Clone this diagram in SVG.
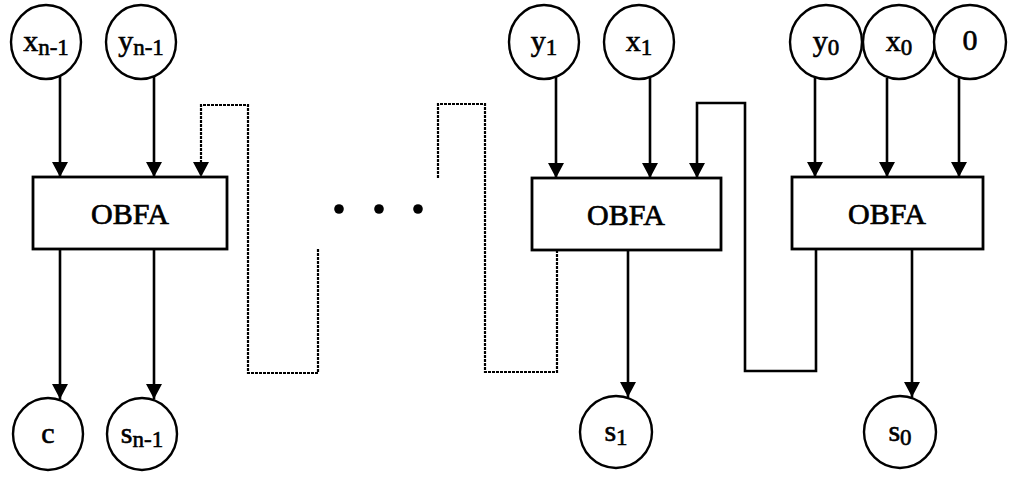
<svg xmlns="http://www.w3.org/2000/svg" width="1016" height="477" viewBox="0 0 1016 477">
<style>
.n{fill:#fff;stroke:#000;stroke-width:2.4}
.b{fill:#fff;stroke:#000;stroke-width:2.8}
.t{font-family:"Liberation Serif","Times New Roman",serif;font-size:30px;fill:#000;stroke:#000;stroke-width:0.6;text-anchor:middle}
.bt{font-family:"Liberation Serif","Times New Roman",serif;font-size:30px;fill:#000;stroke:#000;stroke-width:0.7;text-anchor:middle}
.sub{font-size:23px}
.s{fill:none;stroke:#000;stroke-width:2.6}
.d{fill:none;stroke:#000;stroke-width:2.2;stroke-dasharray:3 1}
.dot{fill:#000}
</style>
<defs>
<marker id="ah" markerUnits="userSpaceOnUse" markerWidth="15" markerHeight="16" viewBox="0 0 15 16" refX="15" refY="8" orient="auto">
<path d="M0,0 L15,8 L0,16 z" fill="#000"/>
</marker>
</defs>
<rect width="1016" height="477" fill="#fff"/>
<g id="connectors">
<line class="s" x1="60" y1="76" x2="60" y2="177" marker-end="url(#ah)"/>
<line class="s" x1="154" y1="76" x2="154" y2="177" marker-end="url(#ah)"/>
<line class="s" x1="556" y1="76" x2="556" y2="178" marker-end="url(#ah)"/>
<line class="s" x1="650" y1="76" x2="650" y2="178" marker-end="url(#ah)"/>
<line class="s" x1="815" y1="76" x2="815" y2="177" marker-end="url(#ah)"/>
<line class="s" x1="887" y1="78" x2="887" y2="177" marker-end="url(#ah)"/>
<line class="s" x1="959" y1="76" x2="959" y2="177" marker-end="url(#ah)"/>
<path class="s" d="M816,249 V371 H745 V103 H697 V178" marker-end="url(#ah)"/>
<path class="d" d="M557,250 V372 H485 V104 H438 V178"/>
<path class="d" d="M318,249 V373 H248 V105 H201 V177" marker-end="url(#ah)"/>
<line class="s" x1="60" y1="249" x2="60" y2="399" marker-end="url(#ah)"/>
<line class="s" x1="154" y1="249" x2="154" y2="399" marker-end="url(#ah)"/>
<line class="s" x1="628" y1="250" x2="628" y2="397" marker-end="url(#ah)"/>
<line class="s" x1="912" y1="249" x2="912" y2="397" marker-end="url(#ah)"/>
</g>
<g id="ellipsis">
<circle class="dot" cx="339" cy="209" r="4.8"/>
<circle class="dot" cx="379" cy="209" r="4.8"/>
<circle class="dot" cx="418" cy="209" r="4.8"/>
</g>
<g id="node-xn1"><ellipse class="n" cx="46" cy="42" rx="35" ry="37"/><text class="t" x="46" y="51">x<tspan class="sub" dy="4">n-1</tspan></text></g>
<g id="node-yn1"><ellipse class="n" cx="141" cy="42" rx="35" ry="37"/><text class="t" x="141" y="51">y<tspan class="sub" dy="4">n-1</tspan></text></g>
<g id="node-y1"><ellipse class="n" cx="544" cy="42" rx="35" ry="37"/><text class="t" x="544" y="51">y<tspan class="sub" dy="4">1</tspan></text></g>
<g id="node-x1"><ellipse class="n" cx="639" cy="42" rx="35" ry="37"/><text class="t" x="639" y="51">x<tspan class="sub" dy="4">1</tspan></text></g>
<g id="node-y0"><ellipse class="n" cx="826" cy="42" rx="36" ry="37"/><text class="t" x="826" y="51">y<tspan class="sub" dy="4">0</tspan></text></g>
<g id="node-x0"><ellipse class="n" cx="899" cy="42" rx="36" ry="37"/><text class="t" x="899" y="51">x<tspan class="sub" dy="4">0</tspan></text></g>
<g id="node-zero"><ellipse class="n" cx="970" cy="42" rx="36" ry="37"/><text class="t" x="970" y="50">0</text></g>
<g id="obfa1"><rect class="b" x="33" y="177" width="194" height="72"/><text class="bt" x="130" y="224">OBFA</text></g>
<g id="obfa2"><rect class="b" x="532" y="178" width="189" height="72"/><text class="bt" x="626" y="225">OBFA</text></g>
<g id="obfa3"><rect class="b" x="792" y="177" width="191" height="72"/><text class="bt" x="887" y="224">OBFA</text></g>
<g id="node-c"><ellipse class="n" cx="48" cy="434" rx="35" ry="36"/><text class="t" x="48" y="443">c</text></g>
<g id="node-sn1"><ellipse class="n" cx="142" cy="434" rx="35" ry="36"/><text class="t" x="142" y="443">s<tspan class="sub" dy="4">n-1</tspan></text></g>
<g id="node-s1"><ellipse class="n" cx="616" cy="432" rx="36" ry="36"/><text class="t" x="616" y="441">s<tspan class="sub" dy="4">1</tspan></text></g>
<g id="node-s0"><ellipse class="n" cx="900" cy="432" rx="36" ry="36"/><text class="t" x="900" y="441">s<tspan class="sub" dy="4">0</tspan></text></g>
</svg>
